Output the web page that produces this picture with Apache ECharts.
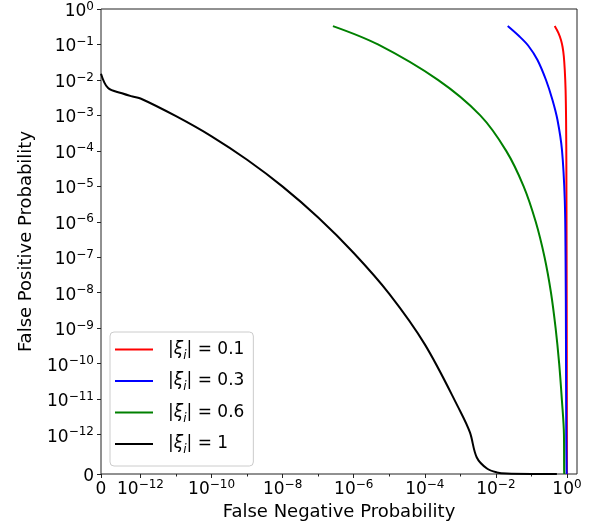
<!DOCTYPE html>
<html>
<head>
<meta charset="utf-8">
<script src="https://cdn.jsdelivr.net/npm/echarts@6/dist/echarts.min.js"></script>
<style>
  html, body { margin: 0; padding: 0; background: #ffffff; }
  #chart { width: 597px; height: 530px; }
</style>
</head>
<body>
<div id="chart"></div>
<script>
// |xi_i| levels, one curve each
const xiLevels = ['0.1', '0.3', '0.6', '1'];
const lineColors = ['#ff0000', '#0000ff', '#008000', '#000000'];

// False negative (x) / false positive (y) probability pairs per level
const fnXi01 = [0.451, 0.577, 0.678, 0.752, 0.813, 0.867, 0.914, 0.944, 0.962, 0.975, 0.987, 0.993, 0.995];
const fpXi01 = [0.332, 0.21, 0.134, 0.0849, 0.0473, 0.0191, 5.2e-3, 7.4e-4, 2.9e-5, 1.6e-7, 2.4e-10, 1e-12, 0];

const fnXi03 = [0.0215, 0.0447, 0.0826, 0.148, 0.257, 0.391, 0.541, 0.723, 0.867, 0.914, 0.937, 0.956, 0.981];
const fpXi03 = [0.332, 0.173, 0.0906, 0.0365, 9.95e-3, 2.72e-3, 7.4e-4, 1.06e-4, 4.1e-6, 8.4e-8, 4.7e-10, 1e-12, 0];

const fnXi06 = [2.6e-7, 4.8e-6, 2.34e-4, 3.63e-3, 1.95e-2, 6.03e-2, 0.132, 0.234, 0.355, 0.479, 0.603, 0.716, 0.822, 0.832, 0.839];
const fpXi06 = [0.33, 0.1, 1e-2, 1e-3, 1e-4, 1e-5, 1e-6, 1e-7, 1e-8, 1e-9, 1e-10, 1e-11, 1e-12, 1e-13, 0];

const fnXi1 = [0, 1.8e-13, 5.3e-13, 7.6e-13, 1e-12, 1e-11, 1e-10, 1e-9, 1e-8, 1e-7, 1e-6, 1e-5, 1e-4, 1e-3, 1.86e-3, 2.9e-3, 5.6e-3, 1.07e-2, 2e-2, 0.1, 0.52];
const fpXi1 = [0.015, 5.9e-3, 4.2e-3, 3.5e-3, 3.0e-3, 9.5e-4, 2.57e-4, 5.6e-5, 9.8e-6, 1.32e-6, 1.32e-7, 9.3e-9, 3.5e-10, 4.5e-12, 1.15e-12, 4.2e-13, 1.4e-13, 4e-14, 1e-14, 0, 0];

const fnSets = [fnXi01, fnXi03, fnXi06, fnXi1];
const fpSets = [fpXi01, fpXi03, fpXi06, fpXi1];

// Decade exponents used for ticks
const xMajorExp = [-12, -10, -8, -6, -4, -2, 0];
const xMinorExp = [-11, -9, -7, -5, -3, -1];
const yMajorExp = [-12, -11, -10, -9, -8, -7, -6, -5, -4, -3, -2, -1, 0];
const xUpperExp = 0.282; // right end of the x range, in decades above 10^0

// Symmetric-log scale: linear on [0, LIN_T], log10 above it
const LIN_T = 1e-12;
const LIN_SPAN = 1 / 0.9; // width of the linear part, in decades
function symlog(v) {
  return v <= LIN_T ? (v / LIN_T) * LIN_SPAN : Math.log10(v / LIN_T) + LIN_SPAN;
}

const FONT = 'DejaVu Sans';
const tickRich = {
  n: { fontFamily: FONT, fontSize: 17, lineHeight: 22, color: '#000' },
  s: { fontFamily: FONT, fontSize: 12, lineHeight: 13, verticalAlign: 'top', color: '#000' }
};
function powerLabel(val) {
  if (val < 0.5) return '{n|0}';
  const e = Math.round(val - LIN_SPAN + Math.log10(LIN_T));
  return '{n|10}{s|' + (e < 0 ? '\u2212' + (-e) : String(e)) + '}';
}

const xMax = symlog(1) + xUpperExp;
const yMax = symlog(1);
const xMajorVals = [0].concat(xMajorExp.map(e => symlog(Math.pow(10, e))));
const xMinorVals = xMinorExp.map(e => symlog(Math.pow(10, e)));
const yMajorVals = [0].concat(yMajorExp.map(e => symlog(Math.pow(10, e))));

const series = xiLevels.map((lvl, k) => ({
  name: '|ξi| = ' + lvl,
  type: 'line',
  xAxisIndex: 0,
  yAxisIndex: 0,
  data: fnSets[k].map((x, i) => [symlog(x), symlog(fpSets[k][i])]),
  symbol: 'none',
  showSymbol: false,
  smooth: 0.35,
  clip: true,
  color: lineColors[k],
  lineStyle: { color: lineColors[k], width: 2 },
  emphasis: { disabled: true }
}));

const chart = echarts.init(document.getElementById('chart'), null, { renderer: 'canvas' });
chart.setOption({
  animation: false,
  backgroundColor: '#ffffff',
  grid: {
    left: 101, top: 9, width: 476, height: 465,
    show: true, borderColor: '#222', borderWidth: 1,
    containLabel: false, outerBoundsMode: 'none'
  },
  legend: {
    orient: 'vertical',
    left: 110, top: 332,
    icon: 'rect',
    itemWidth: 38, itemHeight: 2, itemGap: 11,
    padding: [9, 9, 10, 5],
    backgroundColor: 'rgba(255,255,255,0.8)',
    borderColor: '#cccccc', borderWidth: 1, borderRadius: 4,
    data: series.map(s => s.name),
    formatter: name => {
      const lvl = name.split('= ')[1];
      return '{p| }{t||}{x|ξ}{b|i}{t|| = ' + lvl + '}';
    },
    textStyle: {
      fontFamily: FONT, fontSize: 17, color: '#000',
      rich: {
        p: { width: 10, lineHeight: 24 },
        t: { fontFamily: FONT, fontSize: 17, lineHeight: 24, color: '#000' },
        x: { fontFamily: FONT, fontSize: 17, fontStyle: 'italic', lineHeight: 24, color: '#000' },
        b: { fontFamily: FONT, fontSize: 12, fontStyle: 'italic', lineHeight: 16, verticalAlign: 'bottom', color: '#000' }
      }
    }
  },
  xAxis: [{
    type: 'value',
    min: 0, max: xMax,
    position: 'bottom',
    name: 'False Negative Probability',
    nameLocation: 'middle',
    nameGap: 28,
    nameTextStyle: { fontFamily: FONT, fontSize: 18, color: '#000' },
    axisLine: { show: false },
    splitLine: { show: false },
    axisTick: { show: true, length: 4, lineStyle: { color: '#222', width: 1 }, customValues: xMajorVals },
    axisLabel: { show: true, margin: 5, formatter: powerLabel, rich: tickRich, customValues: xMajorVals }
  }, {
    type: 'value',
    min: 0, max: xMax,
    position: 'bottom',
    axisLine: { show: false },
    splitLine: { show: false },
    axisTick: { show: true, length: 2.5, lineStyle: { color: '#222', width: 1 }, customValues: xMinorVals },
    axisLabel: { show: false }
  }],
  yAxis: {
    type: 'value',
    min: 0, max: yMax,
    name: 'False Positive Probability',
    nameLocation: 'middle',
    nameGap: 66,
    nameTextStyle: { fontFamily: FONT, fontSize: 18, color: '#000' },
    axisLine: { show: false },
    splitLine: { show: false },
    axisTick: { show: true, length: 4, lineStyle: { color: '#222', width: 1 }, customValues: yMajorVals },
    axisLabel: { show: true, margin: 7, padding: [5, 0, 0, 0], formatter: powerLabel, rich: tickRich, customValues: yMajorVals }
  },
  series: series
});
</script>
</body>
</html>
